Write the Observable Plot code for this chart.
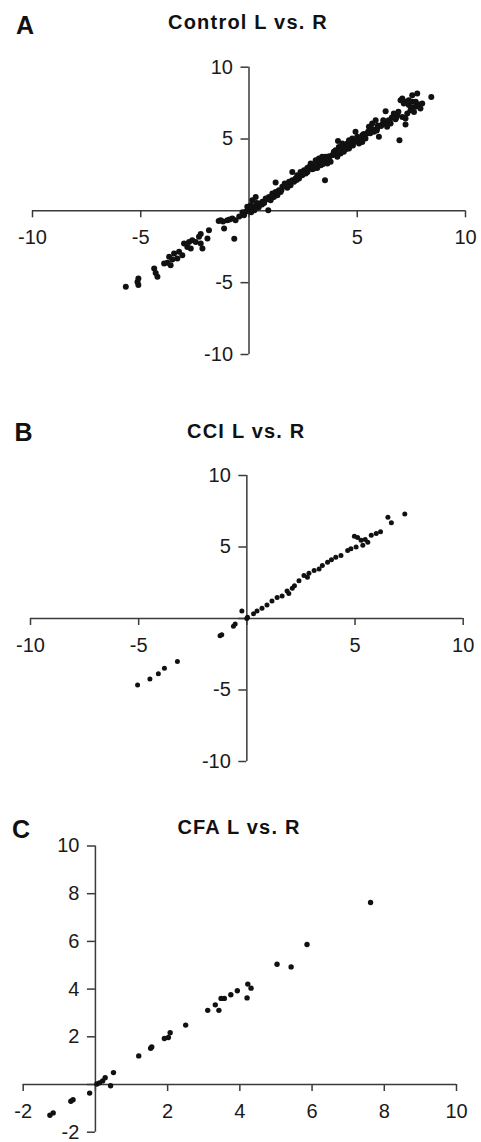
<!DOCTYPE html>
<html>
<head>
<meta charset="utf-8">
<script src="https://cdn.jsdelivr.net/npm/d3@7"></script>
<script src="https://cdn.jsdelivr.net/npm/@observablehq/plot@0.6"></script>
<style>
  html, body { margin: 0; padding: 0; background: #fff; }
  #wrap { position: relative; width: 481px; height: 1142px; overflow: hidden; font-family: "Liberation Sans", Arial, Helvetica, sans-serif; color: #111; }
  .letter { position: absolute; font-weight: bold; font-size: 25px; line-height: 25px; }
  .title { position: absolute; width: 300px; text-align: center; font-weight: bold; font-size: 20px; line-height: 20px; letter-spacing: 1.2px; }
  .panel { position: absolute; left: 0; }
</style>
</head>
<body>
<div id="wrap"></div>
<script>
// ---------- Data ----------
const panelLetters = ["A", "B", "C"];
const panelTitles = ["Control L vs. R", "CCI L vs. R", "CFA L vs. R"];

const wideDomain = [-10, 10];
const wideTicks = [-10, -5, 0, 5, 10];
const wideLabels = [-10, -5, 5, 10];

const cfaDomain = [-2, 10];
const cfaTicks = [-2, 0, 2, 4, 6, 8, 10];
const cfaLabels = [-2, 2, 4, 6, 8, 10];

// Control: [L, R]
const controlPoints = [
  [8.42,7.93],[6.95,4.92],[3.51,2.13],[0.89,0.05],[4.11,4.87],[2.0,2.71],[1.23,1.97],[6.31,6.94],[7.77,8.17],[7.54,8.05],
  [7.08,7.82],[7.23,7.59],[7.38,7.36],[7.54,7.59],[7.69,7.24],[7.85,7.40],[8.0,7.47],[7.46,7.01],[7.62,6.89],[7.31,6.77],
  [7.15,7.47],[7.0,7.70],[7.38,7.70],[7.92,7.12],[7.23,6.43],[7.08,6.54],[7.23,6.01],[6.85,6.66],[6.77,6.38],[6.54,6.08],
  [6.38,5.85],[6.69,6.77],[5.85,6.31],[5.69,6.08],[5.54,5.85],[5.92,5.73],[5.77,5.50],[6.0,5.15],[6.15,6.01],[5.46,5.38],
  [5.31,5.15],[5.15,4.92],[4.92,5.50],[5.0,5.15],[4.85,4.80],[4.69,4.57],[4.62,4.34],[4.46,4.45],[4.31,4.22],[4.23,3.99],
  [4.0,4.22],[3.85,3.87],[3.69,3.64],[3.54,3.76],[3.38,3.53],[3.23,3.41],[3.08,3.53],[3.0,3.18],[2.85,3.29],[2.69,2.99],
  [2.54,2.83],[2.38,2.71],[2.23,2.48],[2.15,2.25],[2.0,2.13],[1.85,2.02],[1.69,1.79],[1.54,1.67],[1.38,1.44],[1.23,1.32],
  [1.08,1.21],[0.92,0.97],[0.77,0.86],[0.62,0.63],[0.46,0.51],[0.31,0.35],[0.15,0.21],[0.0,0.05],
  [3.62,3.29],[3.77,3.41],[4.08,3.76],[4.38,4.11],[3.31,3.18],[3.15,2.99],[2.92,2.90],[2.62,2.60],[2.46,2.48],[2.31,2.25],
  [2.08,2.02],[1.92,1.79],[1.77,1.60],[1.46,1.32],[1.31,1.09],[1.15,0.97],[1.0,0.74],[4.77,5.03],[5.08,4.69],[5.23,4.80],
  [5.38,5.03],[5.62,5.61],[5.23,5.27],[4.54,4.69],[4.15,4.45],[3.92,4.11],[3.46,3.41],[2.77,3.06],[3.38,3.76],[3.23,3.64],
  [4.62,4.92],[4.31,4.69],[6.2,6.3],[6.6,6.5],[5.95,5.95],[6.45,6.3],[2.6,2.75],[3.0,2.95],[1.65,1.9],[4.8,4.55],
  [0.45,0.25],[0.25,0.05],[0.6,0.45],[0.1,-0.1],[0.35,0.55],
  [0.7,0.55],[0.85,0.8],[1.1,1.0],[1.3,1.25],[1.5,1.45],[1.75,1.8],[1.95,2.0],[2.2,2.15],[2.4,2.5],[2.7,2.7],
  [2.9,3.05],[3.1,3.2],[3.3,3.35],[3.5,3.55],[3.7,3.8],[3.9,3.95],[4.1,4.05],[4.3,4.4],[4.5,4.3],[4.7,4.75],
  [4.9,4.85],[5.1,5.05],[5.3,5.35],[5.5,5.5],[5.7,5.7],[5.9,5.6],[6.1,5.9],[6.3,6.1],[6.5,6.25],[6.8,6.5],
  [3.6,3.6],[3.4,3.25],[2.5,2.6],[4.4,4.25],[5.6,5.4],[6.9,6.9],[7.5,7.2],[7.7,7.6],
  [-5.69,-5.29],[-5.11,-4.71],[-5.11,-5.17],[-5.15,-4.95],[-4.38,-4.01],[-4.31,-4.32],[-4.23,-4.59],[-3.77,-3.62],[-3.62,-3.78],
  [-3.69,-3.20],[-3.46,-2.97],[-3.31,-3.32],[-3.23,-2.85],[-3.08,-3.09],[-3.0,-2.27],[-2.85,-2.51],[-2.62,-2.04],[-2.77,-2.16],
  [-2.23,-2.27],[-2.15,-2.62],[-2.23,-1.62],[-2.31,-1.81],[-1.85,-1.35],[-1.92,-1.93],[-1.31,-0.65],[-1.15,-1.23],[-1.0,-0.65],
  [-0.77,-0.53],[-0.62,-0.65],[-0.68,-1.95],[-0.23,-0.30],[-0.15,-0.07],[-0.08,0.28],[0.08,0.39],[0.15,0.74],[0.31,0.97],
  [-3.92,-3.67],[-3.54,-3.39],[-2.46,-2.16],[-2.69,-2.62],[-1.2,-0.75],[-0.45,-0.4],[-0.3,-0.1],[-1.4,-0.7],[-0.9,-0.6]
];

// CCI: [L, R]
const cciPoints = [
  [7.30,7.31],[6.52,7.08],[6.68,6.70],[6.18,6.06],[5.98,5.94],[5.75,5.83],[4.97,5.75],[5.12,5.66],[5.28,5.47],[5.47,5.52],
  [5.59,5.33],[5.36,5.12],[5.05,5.0],[4.81,4.88],[4.66,4.76],[4.35,4.41],[4.11,4.29],[3.91,4.10],[3.73,3.94],[3.49,3.70],
  [3.34,3.47],[3.11,3.35],[2.87,3.16],[2.80,2.88],[2.64,3.0],[2.41,2.64],[2.20,2.29],[2.10,2.12],[1.94,1.75],[1.86,1.93],
  [1.63,1.58],[1.40,1.46],[1.16,1.23],[0.93,0.94],[0.70,0.71],[0.47,0.52],[0.31,0.33],[0.0,0.0],[0.03,0.09],[-0.23,0.52],
  [-0.54,-0.38],[-0.62,-0.54],[-1.16,-1.13],[-1.24,-1.2],
  [-5.05,-4.65],[-4.48,-4.23],[-4.09,-3.87],[-3.81,-3.48],[-3.21,-3.0]
];

// CFA: [L, R]
const cfaPoints = [
  [-1.26,-1.29],[-1.17,-1.19],[-0.68,-0.70],[-0.62,-0.64],[-0.16,-0.36],[0.04,0.02],[0.11,0.07],[0.2,0.15],[0.27,0.28],
  [0.42,-0.05],[0.5,0.5],[1.2,1.2],[1.53,1.52],[1.56,1.57],[1.91,1.93],[2.02,1.97],[2.07,2.17],[2.5,2.49],[3.11,3.11],
  [3.32,3.34],[3.42,3.11],[3.48,3.61],[3.57,3.61],[3.75,3.76],[3.93,3.93],[4.20,3.63],[4.22,4.21],[4.31,4.04],[5.03,5.04],
  [5.42,4.93],[5.86,5.87],[7.62,7.63]
];

// ---------- Drawing ----------
const wrap = document.getElementById("wrap");
const axisColor = "#3a3a3a";
const fontFamily = "'Liberation Sans', Arial, Helvetica, sans-serif";

function addDiv(cls, text, left, top) {
  const d = document.createElement("div");
  d.className = cls;
  d.textContent = text;
  d.style.left = left + "px";
  d.style.top = top + "px";
  wrap.appendChild(d);
}

function panel(cfg) {
  const {top, height, ml, mr, mt, mb, domain, ticks, labels, points, r} = cfg;
  const chart = Plot.plot({
    width: 481,
    height,
    marginLeft: ml, marginRight: mr, marginTop: mt, marginBottom: mb,
    x: {domain, axis: null},
    y: {domain, axis: null},
    style: {fontFamily, fontSize: "20px", background: "transparent", overflow: "visible"},
    marks: [
      Plot.ruleY([0], {x1: domain[0], x2: domain[1], stroke: axisColor, strokeWidth: 1.5}),
      Plot.ruleX([0], {y1: domain[0], y2: domain[1], stroke: axisColor, strokeWidth: 1.5}),
      Plot.ruleX(ticks, {x: d => d, y1: 0, y2: 0, insetTop: 0, insetBottom: -7, stroke: axisColor, strokeWidth: 1.5}),
      Plot.ruleY(ticks, {y: d => d, x1: 0, x2: 0, insetLeft: -8, insetRight: 0, stroke: axisColor, strokeWidth: 1.5}),
      Plot.text(labels, {x: d => d, y: 0, text: d => String(d), dy: 27, fontSize: 20, fill: "#1a1a1a"}),
      Plot.text(labels, {x: 0, y: d => d, text: d => String(d), dx: -16, textAnchor: "end", fontSize: 20, fill: "#1a1a1a"}),
      Plot.dot(points, {x: d => d[0], y: d => d[1], r, fill: "#111", stroke: null})
    ]
  });
  chart.classList.add("panel");
  chart.style.top = top + "px";
  wrap.appendChild(chart);
}

panel({top: 40, height: 340, ml: 32, mr: 16, mt: 26.7, mb: 26, domain: wideDomain, ticks: wideTicks, labels: wideLabels, points: controlPoints, r: 3});
panel({top: 450, height: 330, ml: 30, mr: 18.3, mt: 25, mb: 19, domain: wideDomain, ticks: wideTicks, labels: wideLabels, points: cciPoints, r: 2.5});
panel({top: 840, height: 302, ml: 22.7, mr: 25, mt: 5.5, mb: 10.3, domain: cfaDomain, ticks: cfaTicks, labels: cfaLabels, points: cfaPoints, r: 2.7});

// Letters and titles
addDiv("letter", panelLetters[0], 16, 13.1);
addDiv("letter", panelLetters[1], 14.5, 419.8);
addDiv("letter", panelLetters[2], 12, 816.8);
addDiv("title", panelTitles[0], 248 - 150, 12.4);
addDiv("title", panelTitles[1], 246.3 - 150, 421.4);
addDiv("title", panelTitles[2], 239 - 150, 817.4);
</script>
</body>
</html>
